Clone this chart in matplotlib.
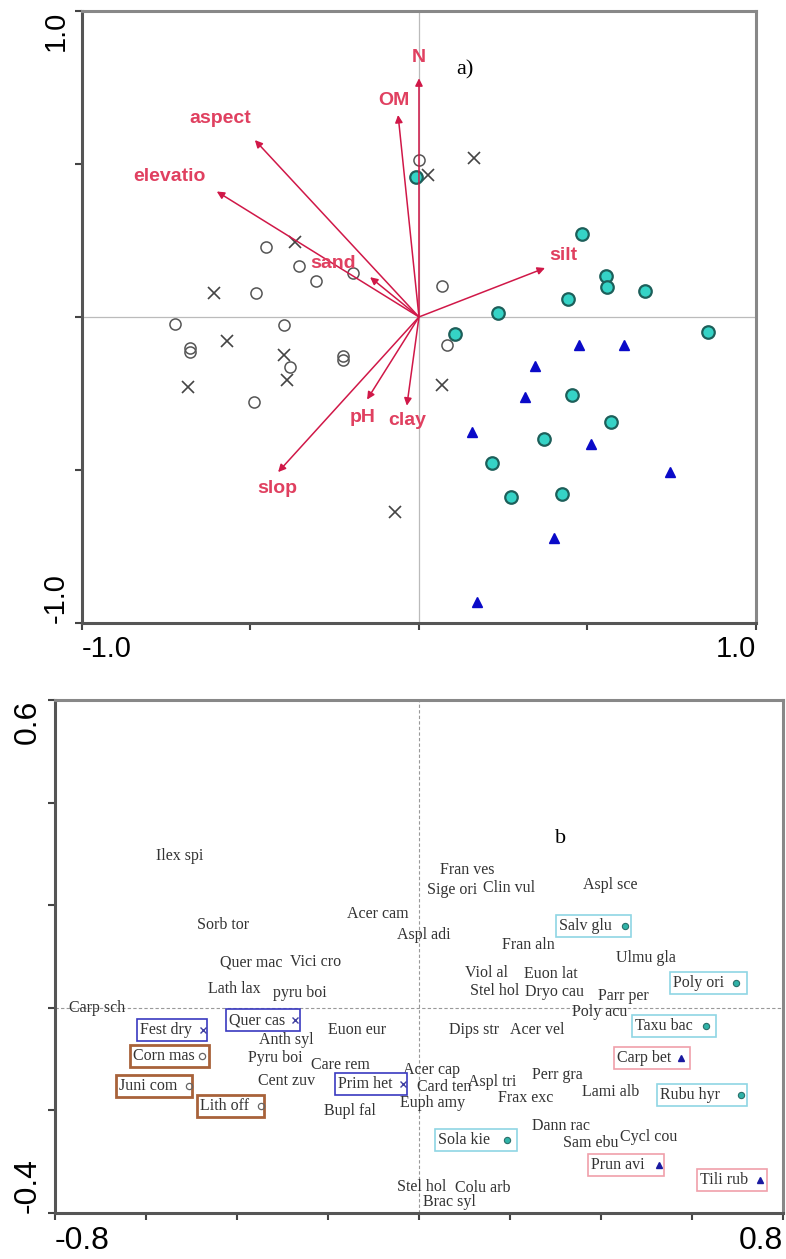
import numpy as np
import matplotlib.pyplot as plt

# ---- panel a: sites and environmental arrows ----
circ_x = [-0.454, -0.356, -0.306, -0.196, -0.484, -0.724, -0.401, 0.0, 0.068,
          -0.680, -0.680, -0.383, -0.226, -0.226, -0.490, 0.083]
circ_y = [0.229, 0.167, 0.118, 0.144, 0.078, -0.023, -0.026, 0.513, 0.101,
          -0.101, -0.114, -0.163, -0.127, -0.141, -0.278, -0.092]
cross_x = [-0.368, -0.608, 0.163, 0.027, -0.570, -0.685, -0.401, -0.392, -0.071, 0.068]
cross_y = [0.245, 0.078, 0.520, 0.464, -0.078, -0.229, -0.124, -0.206, -0.637, -0.222]
cyan_x = [-0.009, 0.484, 0.555, 0.558, 0.671, 0.442, 0.234, 0.107, 0.858,
          0.454, 0.570, 0.371, 0.217, 0.273, 0.424]
cyan_y = [0.458, 0.271, 0.134, 0.098, 0.085, 0.059, 0.013, -0.056, -0.049,
          -0.255, -0.343, -0.399, -0.477, -0.588, -0.578]
tri_x = [0.475, 0.608, 0.344, 0.315, 0.157, 0.510, 0.745, 0.401, 0.172]
tri_y = [-0.092, -0.092, -0.160, -0.261, -0.376, -0.415, -0.507, -0.722, -0.931]

env_names = ["N", "OM", "aspect", "elevatio", "sand", "silt", "pH", "clay", "slop"]
env_x = [0.0, -0.062, -0.487, -0.60, -0.145, 0.374, -0.154, -0.036, -0.418]
env_y = [0.78, 0.66, 0.578, 0.41, 0.13, 0.16, -0.27, -0.29, -0.507]
env_lx = [0.0, -0.075, -0.59, -0.74, -0.255, 0.427, -0.166, -0.035, -0.42]
env_ly = [0.847, 0.707, 0.65, 0.46, 0.176, 0.20, -0.327, -0.34, -0.56]

# ---- panel b: species labels ----
sp_names = ["Ilex spi", "Sorb tor", "Acer cam", "Aspl adi", "Fran ves", "Sige ori",
            "Clin vul", "Aspl sce", "Fran aln", "Ulmu gla", "Quer mac", "Vici cro",
            "Lath lax", "pyru boi", "Carp sch", "Anth syl", "Euon eur", "Pyru boi",
            "Care rem", "Cent zuv", "Bupl fal", "Viol al", "Euon lat", "Stel hol",
            "Dryo cau", "Parr per", "Poly acu", "Dips str", "Acer vel", "Acer cap",
            "Aspl tri", "Perr gra", "Card ten", "Frax exc", "Lami alb", "Euph amy",
            "Dann rac", "Sam ebu", "Cycl cou", "Stel hol", "Colu arb", "Brac syl"]
sp_x = [-0.578, -0.488, -0.158, -0.048, 0.046, 0.018, 0.141, 0.360, 0.182, 0.433,
        -0.437, -0.284, -0.464, -0.321, -0.769, -0.352, -0.200, -0.376, -0.237,
        -0.354, -0.209, 0.101, 0.231, 0.112, 0.233, 0.393, 0.336, 0.066, 0.200,
        -0.035, 0.108, 0.248, -0.004, 0.174, 0.358, -0.042, 0.248, 0.316, 0.442,
        -0.048, 0.079, 0.009]
sp_y = [0.296, 0.161, 0.183, 0.142, 0.269, 0.230, 0.234, 0.239, 0.122, 0.097,
        0.089, 0.089, 0.037, 0.029, 0.0, -0.063, -0.043, -0.098, -0.111, -0.143,
        -0.201, 0.068, 0.066, 0.033, 0.031, 0.024, -0.009, -0.043, -0.043, -0.121,
        -0.145, -0.131, -0.155, -0.176, -0.164, -0.186, -0.231, -0.264, -0.252,
        -0.349, -0.351, -0.379]

# boxed indicator species: group, label pos, marker pos
box_names = ["Fest dry", "Quer cas", "Prim het", "Corn mas", "Juni com", "Lith off",
             "Salv glu", "Poly ori", "Taxu bac", "Rubu hyr", "Sola kie",
             "Carp bet", "Prun avi", "Tili rub"]
box_group = ["x", "x", "x", "o", "o", "o", "c", "c", "c", "c", "c", "t", "t", "t"]
box_x = [-0.613, -0.418, -0.178, -0.629, -0.659, -0.481, 0.308, 0.558, 0.475,
         0.530, 0.042, 0.435, 0.378, 0.618]
box_y = [-0.043, -0.024, -0.149, -0.094, -0.152, -0.191, 0.159, 0.048, -0.035,
         -0.170, -0.258, -0.098, -0.306, -0.336]
mark_x = [-0.475, -0.273, -0.035, -0.477, -0.506, -0.347, 0.453, 0.697, 0.631,
          0.708, 0.193, 0.576, 0.527, 0.749]
box_pad = [3, 3, 3, 3, 3, 3, 4, 5, 5, 6, 6, 4, 4, 4]  # trailing spaces

red = "#d01848"
red_txt = "#e04060"
sans = ["Liberation Sans", "DejaVu Sans"]
serif = ["Liberation Serif", "DejaVu Serif"]

fig = plt.figure(figsize=(7.86, 12.59), dpi=100)
ax1 = fig.add_axes([0.1043, 0.5052, 0.8575, 0.4861])
ax2 = fig.add_axes([0.0700, 0.0365, 0.9262, 0.4075])

# panel a
ax1.axhline(0, color="#bbbbbb", lw=0.9, zorder=0)
ax1.axvline(0, color="#bbbbbb", lw=0.9, zorder=0)
for nm, ex, ey, lx, ly in zip(env_names, env_x, env_y, env_lx, env_ly):
    ax1.annotate("", xy=(ex, ey), xytext=(0, 0),
                 arrowprops=dict(arrowstyle="-|>", color=red, lw=1.1,
                                 mutation_scale=11, shrinkA=0, shrinkB=0))
    ax1.text(lx, ly, nm, color=red_txt, fontsize=14, fontweight="bold",
             family=sans, ha="center", va="center")
ax1.plot(circ_x, circ_y, "o", mfc="none", mec="#555555", ms=8, mew=1.1)
ax1.plot(cross_x, cross_y, "x", color="#444444", ms=9, mew=1.2)
ax1.plot(cyan_x, cyan_y, "o", mfc="#35d3c6", mec="#1d5f5a", ms=9, mew=1.6)
ax1.plot(tri_x, tri_y, "^", color="#0a0ac8", ms=7.5)
ax1.text(0.137, 0.807, "a)", fontsize=16, family=serif, ha="center", va="center")

ax1.set_xlim(-1, 1)
ax1.set_ylim(-1, 1)
ax1.set_xticks([-1, -0.5, 0, 0.5, 1])
ax1.set_yticks([-1, -0.5, 0, 0.5, 1])
ax1.set_xticklabels(["-1.0", "", "", "", "1.0"])
ax1.set_yticklabels(["-1.0", "", "", "", "1.0"], rotation=90)

# panel b
ax2.axhline(0, color="#999999", lw=0.8, ls=(0, (3, 2)), zorder=0)
ax2.axvline(0, color="#999999", lw=0.8, ls=(0, (3, 2)), zorder=0)
for nm, x, y in zip(sp_names, sp_x, sp_y):
    ax2.text(x, y, nm, fontsize=11.5, family=serif, color="#333333",
             ha="left", va="center")

edge = {"x": "#3a3ac0", "o": "#a8623a", "c": "#8fd6e4", "t": "#f0a0aa"}
for nm, g, x, y, mx, npad in zip(box_names, box_group, box_x, box_y, mark_x, box_pad):
    ax2.text(x, y, nm + " " * npad, fontsize=11.5, family=serif, color="#333333",
             ha="left", va="center", zorder=3,
             bbox=dict(boxstyle="square,pad=0.18", fc="white", ec=edge[g],
                       lw=2.0 if g == "o" else 1.2))
    if g == "x":
        ax2.plot(mx, y, "x", color="#4040a0", ms=4.5, mew=1.0, zorder=5)
    elif g == "o":
        ax2.plot(mx, y, "o", mfc="none", mec="#666666", ms=4.5, mew=0.9, zorder=5)
    elif g == "c":
        ax2.plot(mx, y, "o", mfc="#2fb3a8", mec="#2a6f6a", ms=4.5, mew=0.8, zorder=5)
    else:
        ax2.plot(mx, y, "^", color="#1a1aa0", ms=4, zorder=5)
ax2.text(0.310, 0.331, "b", fontsize=16, family=serif, ha="center", va="center")

ax2.set_xlim(-0.8, 0.8)
ax2.set_ylim(-0.4, 0.6)
xt = np.round(np.arange(-0.8, 0.81, 0.2), 1)
yt = np.round(np.arange(-0.4, 0.61, 0.2), 1)
ax2.set_xticks(xt)
ax2.set_yticks(yt)
ax2.set_xticklabels(["-0.8"] + [""] * (len(xt) - 2) + ["0.8"])
ax2.set_yticklabels(["-0.4"] + [""] * (len(yt) - 2) + ["0.6"], rotation=90)

for ax, fs in [(ax1, 21), (ax2, 23)]:
    for s in ["top", "right"]:
        ax.spines[s].set_color("#888888")
        ax.spines[s].set_linewidth(2.2)
    for s in ["left", "bottom"]:
        ax.spines[s].set_color("#555555")
        ax.spines[s].set_linewidth(2.2)
    ax.tick_params(direction="out", length=5, width=1.5, color="#444444",
                   labelsize=fs, pad=4)
    for lab in ax.get_xticklabels() + ax.get_yticklabels():
        lab.set_family(sans)
    xl = ax.get_xticklabels()
    xl[0].set_ha("left")
    xl[-1].set_ha("right")
    yl = ax.get_yticklabels()
    yl[0].set_va("bottom")
    yl[-1].set_va("top")

fig.savefig("out.png", dpi=100)
